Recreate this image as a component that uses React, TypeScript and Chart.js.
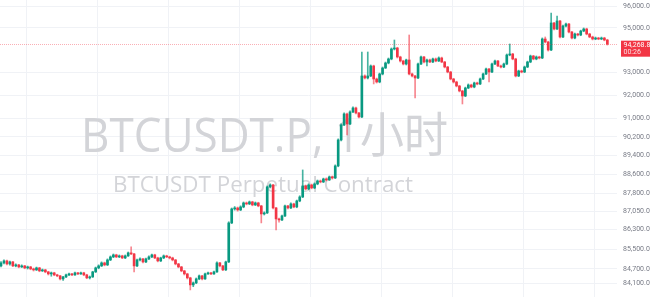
import React, { useEffect, useRef } from "react";
import { Chart, registerables } from "chart.js";

Chart.register(...registerables);

// ---- Data (1h candles, BTCUSDT.P) ----
const opens = [
  84817, 84938, 85019, 84897, 84978, 84817, 84857, 84776, 84817, 84736,
  84776, 84695, 84655, 84736, 84615, 84655, 84575, 84494, 84535, 84454,
  84414, 84293, 84374, 84454, 84494, 84454, 84535, 84494, 84535, 84454,
  84334, 84374, 84575, 84736, 84817, 84938, 84857, 85059, 85181, 85262,
  85181, 85222, 85140, 85222, 85344, 85303, 84817, 85059, 85100, 84978,
  85100, 85181, 85262, 85140, 85019, 85140, 85222, 85181, 85140, 85059,
  84897, 84776, 84615, 84494, 84334, 84053, 84133, 84293, 84414, 84293,
  84494, 84535, 84494, 84575, 84938, 84817, 84655, 84978, 86572, 87151,
  87193, 87110, 87234, 87401, 87359, 87443, 87317, 87401, 87276, 86944,
  86985, 88069, 88153, 87193, 86737, 86696, 86861, 87276, 87193, 87359,
  87234, 87484, 87651, 88111, 87986, 88153, 88027, 88195, 88321, 88279,
  88405, 88363, 88489, 88447, 88955, 90063, 90709, 91186, 90752, 91273,
  91447, 91229, 91055, 92852, 92764, 92852, 93295, 92719, 92587, 92940,
  93206, 93428, 93607, 94054, 94099, 93696, 93517, 93384, 93562, 92940,
  92852, 92764, 93384, 93696, 93473, 93562, 93473, 93607, 93517, 93651,
  93473, 93250, 93028, 92719, 92587, 92410, 92190, 91971, 92322, 92454,
  92366, 92543, 92498, 92719, 92940, 93161, 93028, 93384, 93517, 93295,
  93250, 93384, 93785, 93830, 93607, 92852, 93073, 93028, 93250, 93473,
  93740, 93607, 93696, 93651, 94502, 94367, 94009, 95226, 94954, 95317,
  94593, 95090, 95180, 94818, 94547, 94728, 94683, 94863, 94954, 94728,
  94593, 94502, 94547, 94502, 94547, 94457,
];

const closes = [
  84938, 85019, 84897, 84978, 84817, 84857, 84776, 84817, 84736, 84776,
  84695, 84655, 84736, 84615, 84655, 84575, 84494, 84535, 84454, 84414,
  84293, 84374, 84454, 84494, 84454, 84535, 84494, 84535, 84454, 84334,
  84374, 84575, 84736, 84817, 84938, 84857, 85059, 85181, 85262, 85181,
  85222, 85140, 85222, 85344, 85303, 84817, 85059, 85100, 84978, 85100,
  85181, 85262, 85140, 85019, 85140, 85222, 85181, 85140, 85059, 84897,
  84776, 84615, 84494, 84334, 84053, 84133, 84293, 84414, 84293, 84494,
  84535, 84494, 84575, 84938, 84817, 84655, 84978, 86572, 87151, 87193,
  87110, 87234, 87401, 87359, 87443, 87317, 87401, 87276, 86944, 86985,
  88069, 88153, 87193, 86737, 86696, 86861, 87276, 87193, 87359, 87234,
  87484, 87651, 88111, 87986, 88153, 88027, 88195, 88321, 88279, 88405,
  88363, 88489, 88447, 88955, 90063, 90709, 91186, 90752, 91273, 91447,
  91229, 91055, 92852, 92764, 92852, 93295, 92719, 92587, 92940, 93206,
  93428, 93607, 94054, 94099, 93696, 93517, 93384, 93562, 92940, 92852,
  92764, 93384, 93696, 93473, 93562, 93473, 93607, 93517, 93651, 93473,
  93250, 93028, 92719, 92587, 92410, 92190, 91971, 92322, 92454, 92366,
  92543, 92498, 92719, 92940, 93161, 93028, 93384, 93517, 93295, 93250,
  93384, 93785, 93830, 93607, 92852, 93073, 93028, 93250, 93473, 93740,
  93607, 93696, 93651, 94502, 94367, 94009, 95226, 94954, 95317, 94593,
  95090, 95180, 94818, 94547, 94728, 94683, 94863, 94954, 94728, 94593,
  94502, 94547, 94502, 94547, 94457, 94268.8,
];

const highs = [
  84990, 85060, 85050, 85010, 85000, 84900, 84880, 84860, 84840, 84810,
  84800, 84730, 84770, 84760, 84690, 84680, 84600, 84570, 84560, 84480,
  84440, 84400, 84490, 84530, 84520, 84570, 84560, 84570, 84560, 84480,
  84410, 84600, 84770, 84860, 84980, 84970, 85100, 85220, 85300, 85290,
  85260, 85250, 85260, 85380, 85587, 85330, 85090, 85140, 85120, 85130,
  85220, 85300, 85290, 85170, 85170, 85260, 85250, 85210, 85170, 85080,
  84920, 84800, 84640, 84520, 84360, 84170, 84330, 84450, 84440, 84530,
  84570, 84560, 84610, 84980, 84960, 84840, 85010, 86620, 87190, 87250,
  87230, 87280, 87440, 87440, 87480, 87470, 87440, 87430, 87300, 87030,
  88110, 88200, 88180, 87220, 86770, 86900, 87310, 87300, 87400, 87390,
  87520, 87700, 88785, 88150, 88200, 88190, 88240, 88360, 88360, 88440,
  88450, 88530, 88530, 89000, 90110, 90760, 91230, 91220, 91320, 91500,
  91480, 91260, 93919, 92900, 93919, 93340, 93330, 92760, 92980, 93250,
  93470, 93650, 94100, 94457, 94130, 93730, 93550, 93600, 94683, 92980,
  92880, 93420, 93740, 93730, 93600, 93600, 93650, 93650, 93700, 93690,
  93500, 93280, 93060, 92750, 92620, 92440, 92220, 92360, 92500, 92490,
  92580, 92580, 92760, 92980, 93200, 93190, 93420, 93560, 93550, 93330,
  93420, 93830, 94278, 93860, 93640, 93110, 93110, 93290, 93510, 93780,
  93770, 93740, 93730, 94550, 94593, 94400, 95680, 95260, 95544, 95350,
  95130, 95220, 95210, 94850, 94770, 94760, 94900, 95000, 94990, 94760,
  94630, 94590, 94580, 94590, 94580, 94490,
];

const lows = [
  84780, 84900, 84860, 84850, 84790, 84780, 84740, 84750, 84700, 84690,
  84660, 84610, 84630, 84580, 84590, 84540, 84450, 84400, 84420, 84380,
  84250, 84230, 84340, 84420, 84420, 84430, 84460, 84470, 84420, 84300,
  84290, 84350, 84550, 84700, 84790, 84820, 84830, 85030, 85150, 85150,
  85150, 85110, 85110, 85200, 85270, 84575, 84790, 85020, 84940, 84950,
  85070, 85150, 85110, 84980, 84990, 85110, 85150, 85100, 85020, 84860,
  84740, 84580, 84450, 84290, 83852, 83980, 84100, 84260, 84250, 84270,
  84470, 84460, 84470, 84550, 84780, 84620, 84630, 84950, 86540, 87100,
  87060, 87080, 87200, 87320, 87330, 87280, 87290, 87240, 86572, 86900,
  86960, 88030, 87150, 86284, 86600, 86660, 86830, 87150, 87160, 87200,
  87200, 87450, 87620, 87940, 87950, 87990, 88000, 88160, 88240, 88250,
  88320, 88340, 88400, 88420, 88920, 90020, 90680, 90280, 90720, 91240,
  91190, 91010, 91020, 92720, 92720, 92820, 92500, 92540, 92550, 92900,
  93180, 93390, 93570, 94010, 93650, 93470, 93340, 93340, 92900, 92810,
  91884, 92730, 93350, 93430, 93300, 93440, 93440, 93480, 93490, 93440,
  93210, 92990, 92680, 92540, 92370, 92150, 91621, 91940, 92290, 92330,
  92330, 92460, 92470, 92690, 92910, 92587, 93000, 93350, 93260, 93210,
  93220, 93350, 93750, 93570, 92810, 92820, 92990, 93000, 93220, 93440,
  93570, 93570, 93610, 93620, 94330, 93960, 93980, 94910, 94920, 94550,
  94560, 95050, 94780, 94510, 94510, 94640, 94650, 94830, 94690, 94560,
  94460, 94470, 94470, 94470, 94420, 94230,
];

const priceTicks = [
  84100, 84700, 85500, 86300, 87050, 87800, 88600, 89400, 90200, 91000,
  92000, 93000, 95000, 96000,
];

// day separators (candle index positions of the vertical grid lines)
const dayBreaks = [20.6, 44.6, 68.6, 92.6, 116.6, 140.6, 164.6, 188.6];

const lastPriceText = "94,268.8";
const countdownText = "00:26";
const watermarkTitle = "BTCUSDT.P, 1小时";
const watermarkSubtitle = "BTCUSDT Perpetual Contract";

// ---- Styles ----
const GREEN = "#089981";
const RED = "#f23645";
const GRID = "#f0f2f6";

function fmt(v: number) {
  return v.toLocaleString("en-US", { minimumFractionDigits: 1, maximumFractionDigits: 1 });
}

// draw text centred at cx, fitted to a target width
function fitText(ctx: CanvasRenderingContext2D, text: string, family: string, baseSize: number, width: number, cx: number, baseline: number) {
  ctx.font = `${baseSize}px ${family}`;
  const w = ctx.measureText(text).width;
  const sx = width / w;
  ctx.save();
  ctx.translate(cx, baseline);
  ctx.scale(sx, 1);
  ctx.textAlign = "center";
  ctx.textBaseline = "alphabetic";
  ctx.fillText(text, 0, 0);
  ctx.restore();
}

export default function App() {
  const ref = useRef<HTMLCanvasElement>(null);

  useEffect(() => {
    document.body.style.margin = "0";
    const canvas = ref.current!;
    const n = closes.length;
    const isUp = closes.map((c, i) => c >= opens[i]);
    const bodyColors = isUp.map((u) => (u ? GREEN : RED));
    const wickColors = isUp.map((u) => (u ? "rgba(8,153,129,0.75)" : "rgba(242,54,69,0.6)"));
    const bodies = opens.map((o, i) => ({ x: i, y: [o, closes[i]] }));
    const wicks = lows.map((l, i) => ({ x: i, y: [l, highs[i]] }));
    const lastClose = closes[n - 1];

    const overlay = {
      id: "tvOverlay",
      beforeDatasetsDraw(chart: any) {
        const { ctx } = chart;
        ctx.save();
        ctx.fillStyle = "#d3d4d8";
        fitText(ctx, watermarkTitle, '"Open Sans", "Noto Sans CJK SC", sans-serif', 48, 367, 264.5, 151.5);
        fitText(ctx, watermarkSubtitle, '"Open Sans", sans-serif', 21, 300, 263, 191.5);
        ctx.restore();
      },
      afterDatasetsDraw(chart: any) {
        const { ctx, chartArea } = chart;
        const y = Math.round(chart.scales.y.getPixelForValue(lastClose)) + 0.5;
        ctx.save();
        ctx.strokeStyle = "rgba(242,54,69,0.4)";
        ctx.lineWidth = 1;
        ctx.setLineDash([1, 1]);
        ctx.beginPath();
        ctx.moveTo(chartArea.left, y);
        ctx.lineTo(chartArea.right, y);
        ctx.stroke();
        ctx.restore();
      },
      afterDraw(chart: any) {
        const { ctx } = chart;
        const y = chart.scales.y.getPixelForValue(lastClose);
        ctx.save();
        ctx.fillStyle = RED;
        ctx.fillRect(621, y - 3.5, 29, 16);
        ctx.fillStyle = "#ffffff";
        ctx.font = '7px Roboto, sans-serif';
        ctx.textAlign = "left";
        ctx.textBaseline = "middle";
        ctx.fillText(lastPriceText, 623.5, y + 1);
        ctx.fillStyle = "rgba(255,255,255,0.85)";
        ctx.fillText(countdownText, 623.5, y + 8.5);
        ctx.restore();
      },
    };

    const chart = new Chart(canvas, {
      type: "bar",
      data: {
        datasets: [
          {
            data: wicks as any,
            backgroundColor: wickColors,
            barThickness: 1,
            grouped: false,
            order: 2,
            minBarLength: 1,
          } as any,
          {
            data: bodies as any,
            backgroundColor: bodyColors,
            barThickness: 2,
            grouped: false,
            order: 1,
            minBarLength: 1,
          } as any,
        ],
      },
      options: {
        animation: false,
        responsive: false,
        events: [],
        layout: { padding: 0 },
        plugins: { legend: { display: false }, tooltip: { enabled: false } },
        scales: {
          x: {
            type: "linear",
            min: -0.34,
            max: 208.26,
            bounds: "data",
            offset: false,
            grid: { color: GRID, drawTicks: false, lineWidth: 1 },
            border: { display: false },
            ticks: { display: false },
            afterBuildTicks: (s: any) => {
              s.ticks = dayBreaks.map((v) => ({ value: v }));
            },
            afterFit: (s: any) => {
              s.height = 0;
              s.paddingLeft = 0;
              s.paddingRight = 0;
            },
          },
          y: {
            type: "logarithmic",
            position: "right",
            min: 83569,
            max: 96275,
            bounds: "data",
            grid: { color: GRID, drawTicks: false, lineWidth: 1 },
            border: { display: false },
            ticks: {
              autoSkip: false,
              padding: 6,
              color: "#787b86",
              font: { size: 7, family: "Roboto" },
              callback: (v: any) => fmt(Number(v)),
            },
            afterBuildTicks: (s: any) => {
              s.ticks = priceTicks.map((v) => ({ value: v }));
            },
            afterFit: (s: any) => {
              s.width = 33;
              s.paddingTop = 0;
              s.paddingBottom = 0;
            },
          },
        },
      } as any,
      plugins: [overlay],
    });
    return () => chart.destroy();
  }, []);

  return <canvas ref={ref} width={650} height={297} style={{ display: "block" }} />;
}
